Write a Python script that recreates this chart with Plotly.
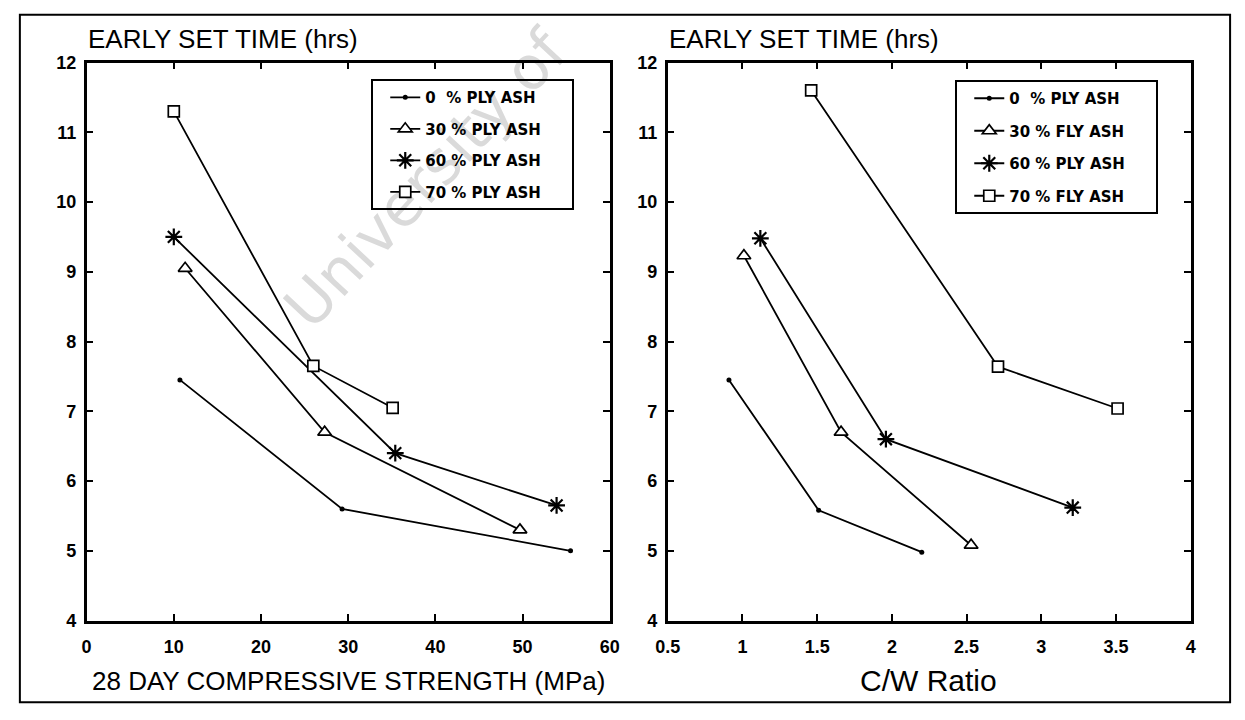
import plotly.graph_objects as go

# ---------------- data ----------------
NB = "\u00a0"
series_names_left = ["0" + NB * 2 + "% PLY ASH", "30 % PLY ASH", "60 % PLY ASH", "70 % PLY ASH"]
series_names_right = ["0" + NB * 2 + "% PLY ASH", "30 % FLY ASH", "60 % PLY ASH", "70 % FLY ASH"]

# Left: set time vs 28-day compressive strength (MPa)
strength_0 = [10.7, 29.3, 55.5]
settime_s0 = [7.45, 5.6, 5.0]
strength_30 = [11.3, 27.3, 49.7]
settime_s30 = [9.05, 6.7, 5.3]
strength_60 = [10.0, 35.4, 53.9]
settime_s60 = [9.5, 6.4, 5.65]
strength_70 = [10.0, 26.0, 35.1]
settime_s70 = [11.3, 7.65, 7.05]

# Right: set time vs C/W ratio
cw_0 = [0.91, 1.51, 2.2]
settime_c0 = [7.45, 5.58, 4.98]
cw_30 = [1.01, 1.66, 2.53]
settime_c30 = [9.23, 6.7, 5.08]
cw_60 = [1.12, 1.96, 3.21]
settime_c60 = [9.48, 6.6, 5.62]
cw_70 = [1.46, 2.71, 3.51]
settime_c70 = [11.6, 7.64, 7.04]

x_ticks_left = [0, 10, 20, 30, 40, 50, 60]
x_ticks_right = [0.5, 1, 1.5, 2, 2.5, 3, 3.5, 4]
y_ticks = [4, 5, 6, 7, 8, 9, 10, 11, 12]

# ---------------- styles ----------------
W, H = 1245, 720
BLACK = "black"
marker_styles = [
    dict(symbol="circle", size=5, color=BLACK),
    dict(symbol="triangle-up", size=12, color="white", line=dict(color=BLACK, width=1.7)),
    dict(symbol="asterisk-open", size=14, color=BLACK, line=dict(color=BLACK, width=2.2)),
    dict(symbol="square", size=11, color="white", line=dict(color=BLACK, width=1.7)),
]

fig = go.Figure()

left_sets = [(strength_0, settime_s0), (strength_30, settime_s30),
             (strength_60, settime_s60), (strength_70, settime_s70)]
right_sets = [(cw_0, settime_c0), (cw_30, settime_c30),
              (cw_60, settime_c60), (cw_70, settime_c70)]

PAD = NB * 5
for i, (xs, ys) in enumerate(left_sets):
    fig.add_trace(go.Scatter(
        x=xs, y=ys, mode="lines+markers", name=series_names_left[i] + PAD,
        line=dict(color=BLACK, width=1.8), marker=marker_styles[i],
        xaxis="x", yaxis="y", legend="legend", legendgroup="L%d" % i,
        cliponaxis=False))

for i, (xs, ys) in enumerate(right_sets):
    fig.add_trace(go.Scatter(
        x=xs, y=ys, mode="lines+markers", name=series_names_right[i] + PAD,
        line=dict(color=BLACK, width=1.8), marker=marker_styles[i],
        xaxis="x2", yaxis="y2", legend="legend2", legendgroup="R%d" % i,
        cliponaxis=False))

tick_font = dict(family="Liberation Sans", size=18, color=BLACK, weight="bold")
axis_common = dict(showline=True, linecolor=BLACK, linewidth=2.5, mirror="ticks",
                   ticks="inside", ticklen=7, tickwidth=1.5, tickcolor=BLACK,
                   showgrid=False, zeroline=False, tickfont=tick_font)

legend_font = dict(family="DejaVu Sans", size=15, color=BLACK, weight="bold")
ydom = [(H - 628) / H, (H - 54) / H]
fig.update_layout(
    width=W, height=H,
    margin=dict(l=0, r=0, t=0, b=0),
    paper_bgcolor="white", plot_bgcolor="rgba(0,0,0,0)",
    font=dict(family="Liberation Sans", color=BLACK),
    xaxis=dict(domain=[75 / W, 608 / W], range=[0, 60], tickvals=x_ticks_left,
               anchor="y", ticklabelstandoff=8, **axis_common),
    yaxis=dict(domain=ydom, range=[4, 12], tickvals=y_ticks, anchor="x",
               ticklabelstandoff=4, **axis_common),
    xaxis2=dict(domain=[667 / W, 1200 / W], range=[0.5, 4], tickvals=x_ticks_right,
                anchor="y2", ticklabelstandoff=8, **axis_common),
    yaxis2=dict(domain=ydom, range=[4, 12], tickvals=y_ticks, anchor="x2",
                ticklabelstandoff=4, **axis_common),
    legend=dict(x=365 / W, y=(H - 71) / H, xanchor="left", yanchor="top",
                bordercolor=BLACK, borderwidth=2, bgcolor="rgba(255,255,255,0)",
                font=legend_font, tracegroupgap=9, itemwidth=30, indentation=12),
    legend2=dict(x=960 / W, y=(H - 72) / H, xanchor="left", yanchor="top",
                 bordercolor=BLACK, borderwidth=2, bgcolor="rgba(255,255,255,0)",
                 font=legend_font, tracegroupgap=10, itemwidth=30, indentation=12),
)

title_font = dict(family="Liberation Sans", size=26, color=BLACK)
annotations = [
    dict(text="EARLY SET TIME (hrs)", x=74 / W, y=(H - 30) / H, xref="paper", yref="paper",
         xanchor="left", yanchor="middle", showarrow=False, font=title_font),
    dict(text="EARLY SET TIME (hrs)", x=666 / W, y=(H - 30) / H, xref="paper", yref="paper",
         xanchor="left", yanchor="middle", showarrow=False, font=title_font),
    dict(text="28 DAY COMPRESSIVE STRENGTH (MPa)", x=342 / W, y=(H - 690) / H,
         xref="paper", yref="paper", xanchor="center", yanchor="middle",
         showarrow=False, font=dict(family="Liberation Sans", size=26, color=BLACK)),
    dict(text="C/W Ratio", x=933 / W, y=(H - 690) / H,
         xref="paper", yref="paper", xanchor="center", yanchor="middle",
         showarrow=False, font=dict(family="Liberation Sans", size=30, color=BLACK)),
]
fig.update_layout(annotations=annotations)

# watermark placement (pixel centre of text and its direction)
wm_cx, wm_cy, wm_dx, wm_dy = 417, 171, 0.682, -0.731
shapes = [
    # outer frame of the scanned page
    dict(type="rect", xref="paper", yref="paper", x0=7 / W, x1=1240 / W,
         y0=(H - 712) / H, y1=(H - 5) / H, line=dict(color=BLACK, width=2),
         layer="below"),
    # faint watermark
    dict(type="line", xref="paper", yref="paper",
         x0=(wm_cx - 100 * wm_dx) / W, y0=(H - (wm_cy - 100 * wm_dy)) / H,
         x1=(wm_cx + 100 * wm_dx) / W, y1=(H - (wm_cy + 100 * wm_dy)) / H,
         line=dict(width=0, color="rgba(0,0,0,0)"), layer="below",
         label=dict(text="University of", textangle=-47, textposition="middle",
                    yanchor="middle",
                    font=dict(family="DejaVu Sans", size=60, color="#dadada"))),
]
fig.update_layout(shapes=shapes)

fig.write_html("out.html")
